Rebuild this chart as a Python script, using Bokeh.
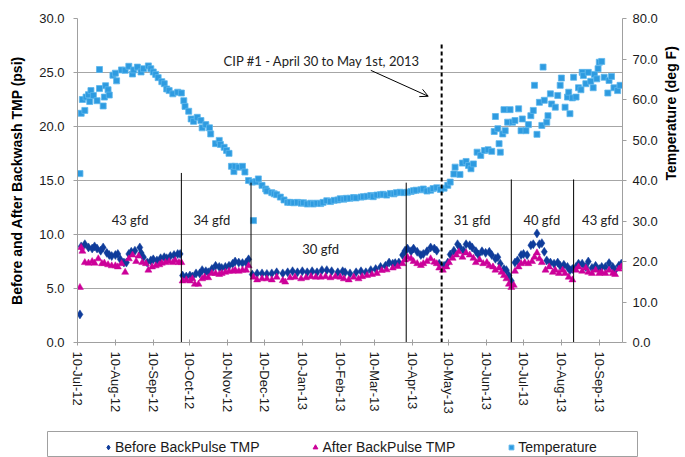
import math
import pandas as pd
from bokeh.plotting import figure
from bokeh.models import (Range1d, LinearAxis, FixedTicker, NumeralTickFormatter,
                          DatetimeTickFormatter, ColumnDataSource, Legend, LegendItem,
                          Label, Arrow, OpenHead)
from bokeh.embed import file_html
from bokeh.resources import INLINE
from bokeh.core.properties import value

# ---------------- data ----------------
start_date = "2012-07-10"          # day 0 of the day-offset lists below
end_day = 446

x_tick_labels = ["10-Jul-12", "10-Aug-12", "10-Sep-12", "10-Oct-12", "10-Nov-12",
                 "10-Dec-12", "10-Jan-13", "10-Feb-13", "10-Mar-13", "10-Apr-13",
                 "10-May-13", "10-Jun-13", "10-Jul-13", "10-Aug-13", "10-Sep-13"]
left_ticks = [0, 5, 10, 15, 20, 25, 30]
right_ticks = [0, 10, 20, 30, 40, 50, 60, 70, 80]

before_day = [2, 3, 6, 9, 12, 14, 16, 19, 21, 24,
              26, 28, 31, 33, 35, 38, 40, 42, 44, 47,
              51, 52, 54, 57, 60, 62, 65, 68, 71, 73,
              76, 79, 82, 84, 86, 89, 92, 94, 97, 100,
              102, 105, 107, 110, 113, 116, 118, 121, 124, 127,
              129, 132, 135, 138, 140, 143, 147, 151, 155, 159,
              163, 168, 172, 176, 180, 184, 188, 192, 196, 200,
              204, 208, 213, 217, 219, 223, 228, 232, 236, 240,
              244, 248, 252, 255, 258, 260, 263, 266, 268, 270,
              273, 275, 278, 281, 283, 286, 289, 292, 294, 296,
              300, 303, 305, 308, 311, 313, 316, 318, 321, 323,
              326, 328, 331, 334, 337, 339, 342, 344, 346, 349,
              351, 353, 355, 358, 360, 363, 365, 368, 371, 373,
              376, 378, 380, 382, 384, 387, 390, 393, 395, 398,
              401, 403, 405, 408, 410, 413, 416, 418, 421, 424,
              427, 429, 432, 435, 438, 440, 443, 445]
before_psi = [2.6, 8.9, 9.1, 8.8, 8.7, 8.9, 8.7, 8.5, 8.8, 8.3,
              8.1, 8.0, 8.1, 8.2, 7.7, 7.4, 7.4, 8.2, 8.4, 8.5,
              8.8, 8.3, 7.9, 7.4, 7.6, 7.7, 7.6, 7.8, 7.9, 7.8,
              8.0, 8.1, 8.2, 8.2, 6.2, 6.1, 6.2, 6.1, 6.4, 6.4,
              6.7, 6.6, 6.5, 6.8, 7.1, 7.0, 6.9, 7.0, 7.1, 7.3,
              7.5, 7.4, 7.35, 7.4, 7.7, 6.3, 6.4, 6.4, 6.35, 6.4,
              6.5, 6.4, 6.5, 6.6, 6.5, 6.6, 6.5, 6.6, 6.5, 6.7,
              6.7, 6.6, 6.5, 6.6, 6.5, 6.4, 6.5, 6.6, 6.5, 6.7,
              6.8, 7.0, 7.1, 7.4, 7.3, 7.35, 7.4, 8.1, 8.5, 8.7,
              8.45, 8.7, 8.4, 8.1, 8.2, 8.45, 8.8, 8.7, 8.5, 7.3,
              7.1, 7.4, 8.15, 8.5, 9.1, 8.8, 8.5, 9.1, 9.0, 8.8,
              8.45, 8.15, 8.45, 8.3, 8.4, 8.1, 7.75, 7.9, 7.3, 6.8,
              6.7, 6.2, 5.7, 7.4, 7.6, 8.1, 8.2, 8.1, 9.0, 9.1,
              10.1, 9.1, 9.2, 8.4, 7.6, 7.4, 7.3, 7.4, 7.1, 7.2,
              7.0, 6.7, 6.8, 7.0, 7.3, 7.3, 7.0, 7.5, 6.9, 7.1,
              6.8, 7.0, 7.0, 7.35, 7.0, 6.7, 7.1, 7.3]

after_day = [2, 3, 4, 6, 9, 12, 14, 17, 20, 22,
             25, 28, 31, 33, 36, 39, 42, 45, 48, 50,
             53, 56, 58, 61, 64, 67, 69, 72, 75, 78,
             80, 83, 85, 86, 89, 92, 94, 96, 99, 102,
             104, 107, 110, 113, 116, 118, 121, 124, 127, 129,
             132, 135, 138, 140, 144, 147, 151, 155, 159, 163,
             168, 170, 174, 178, 183, 187, 191, 195, 199, 203,
             207, 211, 215, 218, 222, 226, 230, 233, 237, 241,
             245, 249, 253, 258, 262, 266, 268, 270, 273, 275,
             278, 281, 283, 286, 289, 292, 294, 296, 299, 302,
             304, 307, 310, 312, 315, 318, 321, 324, 326, 329,
             332, 335, 337, 340, 342, 345, 347, 349, 351, 353,
             355, 357, 358, 361, 363, 366, 369, 372, 374, 376,
             378, 380, 383, 386, 389, 391, 394, 397, 399, 402,
             405, 408, 410, 413, 416, 418, 421, 424, 427, 429,
             432, 435, 438, 440, 443, 445]
after_psi = [5.1, 8.8, 8.45, 7.4, 7.35, 7.5, 7.35, 7.75, 7.3, 7.35,
             7.2, 7.1, 7.1, 7.0, 7.3, 6.5, 7.75, 8.1, 7.5, 8.0,
             7.4, 7.3, 6.7, 7.0, 7.1, 7.2, 7.35, 7.4, 7.5, 7.4,
             7.6, 7.4, 7.4, 5.7, 5.8, 5.7, 5.9, 5.4, 5.4, 5.9,
             6.05, 6.0, 6.4, 6.4, 6.3, 6.4, 6.5, 6.6, 6.6, 6.7,
             6.6, 6.7, 6.7, 7.1, 6.05, 5.8, 5.9, 5.9, 5.8, 6.05,
             5.74, 5.6, 6.0, 6.05, 5.9, 6.0, 6.1, 6.05, 6.05, 6.1,
             6.0, 6.1, 6.05, 5.9, 5.8, 6.05, 5.9, 6.1, 6.2, 6.3,
             6.4, 6.67, 6.73, 6.9, 7.04, 7.3, 7.65, 7.9, 7.75, 7.5,
             7.3, 7.13, 7.3, 7.5, 7.75, 7.44, 7.3, 6.9, 6.7, 7.0,
             7.4, 7.8, 8.1, 8.4, 7.9, 8.3, 8.1, 7.8, 7.4, 7.65,
             7.3, 7.4, 7.1, 7.0, 6.7, 6.9, 6.5, 6.2, 5.9, 5.4,
             5.1, 5.3, 6.6, 7.0, 7.3, 7.4, 7.3, 7.5, 7.9, 8.3,
             7.75, 7.4, 6.7, 7.0, 6.5, 6.7, 6.4, 6.7, 6.4, 6.05,
             5.8, 6.7, 7.0, 6.6, 6.9, 6.5, 6.4, 6.7, 6.4, 6.5,
             6.4, 6.7, 6.4, 6.3, 6.8, 7.0]

temp_day = [2, 3, 4, 6, 7, 9, 10, 11, 13, 16,
            18, 18, 21, 22, 23, 25, 26, 29, 31, 32,
            36, 39, 42, 45, 46, 49, 52, 54, 58, 60,
            62, 64, 66, 69, 71, 73, 75, 78, 82, 85,
            87, 88, 91, 93, 95, 98, 101, 102, 105, 108,
            109, 113, 116, 117, 120, 122, 124, 126, 128, 129,
            132, 135, 137, 140, 143, 144, 146, 148, 151, 154,
            155, 159, 161, 163, 166, 169, 172, 174, 177, 180,
            183, 185, 188, 191, 193, 196, 199, 201, 204, 207,
            210, 213, 215, 218, 220, 223, 226, 228, 232, 234,
            237, 240, 242, 245, 248, 250, 253, 256, 259, 261,
            264, 267, 270, 273, 275, 277, 281, 283, 286, 289,
            291, 294, 297, 300, 303, 305, 308, 309, 313, 315,
            318, 320, 322, 324, 327, 330, 333, 336, 339, 341,
            342, 344, 345, 346, 348, 349, 350, 352, 354, 356,
            358, 361, 363, 364, 367, 369, 371, 373, 374, 376,
            378, 380, 381, 382, 384, 385, 387, 388, 391, 393,
            395, 396, 399, 401, 402, 403, 405, 406, 408, 410,
            412, 413, 414, 416, 418, 420, 422, 423, 425, 426,
            427, 429, 431, 434, 435, 437, 439, 442, 444]
temp_F = [41.7, 56.6, 60.0, 57.3, 60.6, 61.2, 59.5, 62.2, 61.0, 59.7,
          62.7, 67.4, 58.4, 60.6, 63.4, 62.4, 61.1, 66.0, 66.5, 64.6,
          67.3, 67.2, 68.2, 66.3, 67.3, 68.0, 66.8, 67.6, 68.3, 67.6,
          66.8, 66.2, 65.4, 64.4, 63.9, 62.6, 62.2, 61.4, 61.8, 61.6,
          59.7, 58.3, 57.1, 55.2, 54.6, 55.6, 54.8, 53.0, 53.8, 53.0,
          51.5, 49.1, 49.9, 48.9, 48.2, 47.4, 46.7, 43.5, 42.2, 43.5,
          43.3, 43.5, 42.1, 40.0, 39.6, 30.1, 39.7, 40.4, 38.8, 37.9,
          37.4, 37.0, 36.7, 36.5, 35.9, 35.2, 34.6, 34.6, 34.5, 34.6,
          34.4, 34.5, 34.2, 34.4, 34.2, 34.4, 34.3, 34.6, 35.0, 34.8,
          35.1, 35.2, 35.5, 35.4, 35.6, 35.6, 35.8, 35.7, 35.9, 36.0,
          36.1, 36.3, 36.0, 36.4, 36.5, 36.6, 36.4, 36.8, 36.7, 37.0,
          37.1, 37.0, 37.1, 37.3, 37.5, 37.6, 37.7, 37.9, 37.4, 37.6,
          38.0, 38.2, 37.8, 38.1, 38.8, 39.6, 41.6, 43.3, 41.5, 44.3,
          44.7, 43.7, 42.9, 44.1, 47.0, 46.2, 47.4, 47.6, 47.2, 52.1,
          55.8, 52.8, 49.1, 47.0, 51.5, 57.5, 52.3, 54.4, 57.5, 54.4,
          54.8, 57.7, 52.3, 55.2, 52.3, 53.8, 56.0, 57.3, 63.5, 51.4,
          59.3, 53.6, 68.0, 59.8, 54.4, 56.0, 61.4, 58.9, 58.1, 61.0,
          63.5, 65.3, 58.1, 60.6, 61.8, 56.5, 60.4, 65.5, 60.6, 62.9,
          62.4, 66.7, 65.9, 63.9, 66.7, 64.5, 62.9, 66.2, 65.1, 67.6,
          69.2, 69.4, 65.5, 61.6, 64.7, 65.7, 62.9, 62.2, 63.5]

# flux regime boundaries (day offsets) and the height of their marker lines (psi)
regime_change_day = [85, 142, 269, 355, 406]
regime_line_top = [15.7, 14.8, 14.8, 15.1, 15.1]
cip_day = 298
cip_line_top = 27.8
cip_text = "CIP #1 - April 30 to May 1st, 2013"

flux_labels = ["43 gfd", "34 gfd", "30 gfd", "31 gfd", "40 gfd", "43 gfd"]
flux_label_day = [43, 110, 199, 323, 380, 428]
flux_label_psi = [11.3, 11.3, 8.7, 11.3, 11.3, 11.3]

series_names = ["Before BackPulse TMP", "After BackPulse TMP", "Temperature"]

# ---------------- helpers ----------------
base = pd.Timestamp(start_date)


def to_dates(days):
    return [base + pd.Timedelta(days=d) for d in days]


def to_ms(ts):
    return ts.timestamp() * 1000.0


tick_dates = pd.to_datetime(x_tick_labels, format="%d-%b-%y")
x_tick_ms = [to_ms(t) for t in tick_dates]

FONT = "Liberation Sans"
NOTE_FONT = "Lato"
AXIS_GRAY = "#A0A0A0"
BLUE_DARK = "#0F3C9B"
MAGENTA = "#CC0099"
SKY = "#2E9BE0"

# ---------------- main figure ----------------
p = figure(x_axis_type="datetime", frame_width=545, frame_height=324,
           x_range=Range1d(base, base + pd.Timedelta(days=end_day)),
           y_range=Range1d(0, 30),
           min_border_left=77, min_border_right=0, min_border_top=18,
           min_border_bottom=89,
           output_backend="svg", toolbar_location=None)
p.outline_line_color = None
p.extra_y_ranges = {"temp": Range1d(0, 80)}

p.xgrid.grid_line_color = None
p.ygrid.ticker = FixedTicker(ticks=left_ticks)
p.ygrid.grid_line_color = "#A6A6A6"
p.ygrid.grid_line_width = 1

# left axis
ax_l = p.left[0]
ax_l.ticker = FixedTicker(ticks=left_ticks)
ax_l.formatter = NumeralTickFormatter(format="0.0")
ax_l.axis_label = "Before and After Backwash TMP (psi)"
ax_l.axis_label_standoff = 11
ax_l.major_label_standoff = 9
ax_l.major_tick_out = 4
ax_l.major_tick_in = 0

# bottom axis
ax_b = p.below[0]
ax_b.ticker = FixedTicker(ticks=x_tick_ms)
fmt = "%d-%b-%y"
ax_b.formatter = DatetimeTickFormatter(milliseconds=fmt, seconds=fmt, minsec=fmt,
                                       minutes=fmt, hourmin=fmt, hours=fmt, days=fmt,
                                       months=fmt, years=fmt)
ax_b.major_label_orientation = "vertical"
ax_b.major_label_standoff = 6
ax_b.major_tick_out = 3
ax_b.major_tick_in = 3

# right axis
ax_r = LinearAxis(y_range_name="temp", ticker=FixedTicker(ticks=right_ticks),
                  formatter=NumeralTickFormatter(format="0.0"),
                  axis_label="Temperature (deg F)")
ax_r.axis_label_orientation = math.pi / 2
ax_r.axis_label_standoff = 10
ax_r.major_label_standoff = 6
ax_r.major_tick_out = 4
ax_r.major_tick_in = 0
p.add_layout(ax_r, "right")

for ax in (ax_l, ax_b, ax_r):
    ax.axis_line_color = AXIS_GRAY
    ax.major_tick_line_color = AXIS_GRAY
    ax.minor_tick_line_color = None
    ax.major_label_text_font = FONT
    ax.major_label_text_font_size = "13px"
    ax.major_label_text_color = "#1a1a1a"
    ax.axis_label_text_font = FONT
    ax.axis_label_text_font_size = "14px"
    ax.axis_label_text_font_style = "bold"
    ax.axis_label_text_color = "#000000"

# series
src_before = ColumnDataSource(dict(x=to_dates(before_day), y=before_psi))
src_after = ColumnDataSource(dict(x=to_dates(after_day), y=after_psi))
src_temp = ColumnDataSource(dict(x=to_dates(temp_day), y=temp_F))

before_style = dict(marker="diamond", fill_color=BLUE_DARK, line_color=BLUE_DARK)
after_style = dict(marker="triangle", fill_color=MAGENTA, line_color=MAGENTA)
temp_style = dict(marker="square", fill_color=SKY, line_color="#5DB6EC")

p.scatter("x", "y", source=src_before, size=9, line_width=0.5, **before_style)
p.scatter("x", "y", source=src_after, size=7, line_width=0.5, **after_style)
p.scatter("x", "y", source=src_temp, size=6, line_width=0.8, y_range_name="temp",
          **temp_style)

# regime boundary lines
reg_dates = to_dates(regime_change_day)
p.segment(x0=reg_dates, y0=[0] * len(reg_dates), x1=reg_dates, y1=regime_line_top,
          line_color="black", line_width=1)
cip_dates = to_dates([cip_day])
p.segment(x0=cip_dates, y0=[0], x1=cip_dates, y1=[cip_line_top],
          line_color="black", line_width=2, line_dash="4 3")

# flux labels
p.text(x=to_dates(flux_label_day), y=flux_label_psi, text=flux_labels,
       text_font=value(NOTE_FONT), text_font_size="13px", text_color="#222222",
       text_align="center", text_baseline="middle")

# CIP note and arrow
note_x = to_ms(base + pd.Timedelta(days=200))
p.add_layout(Label(x=note_x, y=26.1, text=cip_text, text_font=NOTE_FONT,
                   text_font_size="13px", text_color="#222222",
                   text_align="center", text_baseline="middle"))
p.add_layout(Arrow(x_start=to_ms(base + pd.Timedelta(days=240)), y_start=25.2,
                   x_end=to_ms(base + pd.Timedelta(days=287)), y_end=22.8,
                   line_color="black", line_width=1,
                   end=OpenHead(size=8, line_color="black", line_width=1)))

# ---------------- legend strip (separate root, boxed by its frame outline) ----------------
leg = figure(frame_width=590, frame_height=26, min_border_left=47, min_border_right=46,
             min_border_top=0, min_border_bottom=0,
             x_axis_type=None, y_axis_type=None,
             x_range=Range1d(0, 1), y_range=Range1d(0, 1),
             output_backend="svg", toolbar_location=None)
leg.outline_line_color = AXIS_GRAY
leg.xgrid.visible = False
leg.ygrid.visible = False
# the same series sources; their points fall outside this strip's ranges, so only
# the legend glyphs show
lr1 = leg.scatter("x", "y", source=src_before, **before_style)
lr2 = leg.scatter("x", "y", source=src_after, **after_style)
lr3 = leg.scatter("x", "y", source=src_temp, **temp_style)
legend = Legend(items=[LegendItem(label=series_names[0], renderers=[lr1]),
                       LegendItem(label=series_names[1], renderers=[lr2]),
                       LegendItem(label=series_names[2], renderers=[lr3])],
                orientation="horizontal", location=(55, 0), margin=0, padding=0,
                spacing=50, glyph_width=12, glyph_height=20, label_standoff=1,
                border_line_color=None, background_fill_alpha=0,
                label_text_font=FONT, label_text_font_size="14px",
                label_text_color="#1a1a1a")
leg.add_layout(legend, "center")

open("out.html", "w").write(file_html([p, leg], INLINE))
